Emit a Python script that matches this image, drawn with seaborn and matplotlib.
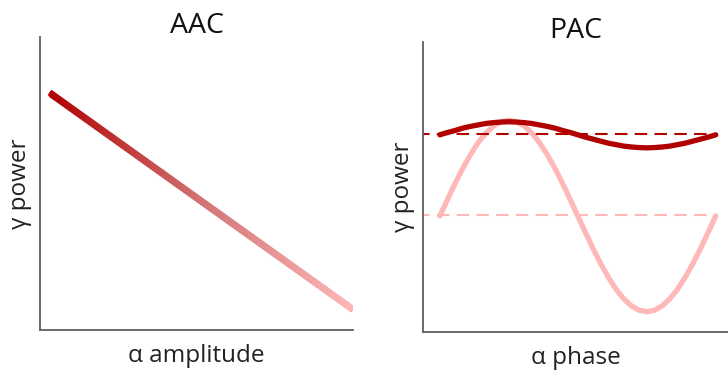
import numpy as np
import pandas as pd
import matplotlib
matplotlib.use("Agg")
import matplotlib.pyplot as plt
import seaborn as sns
from matplotlib.colors import LinearSegmentedColormap
from matplotlib.patches import Polygon
from matplotlib.transforms import IdentityTransform

# ---- data ----
aac_amplitude = [0.3, 10.0]
aac_power = [8.1, 0.7]

pac_phase = [0, 10, 20, 30, 40, 50, 60, 70, 80, 90, 100, 110, 120, 130, 140, 150,
             160, 170, 180, 190, 200, 210, 220, 230, 240, 250, 260, 270, 280, 290,
             300, 310, 320, 330, 340, 350, 360]
pac_low = [4.0, 4.57, 5.13, 5.65, 6.12, 6.53, 6.86, 7.10, 7.25, 7.3, 7.25, 7.10,
           6.86, 6.53, 6.12, 5.65, 5.13, 4.57, 4.0, 3.43, 2.87, 2.35, 1.88, 1.47,
           1.14, 0.90, 0.75, 0.7, 0.75, 0.90, 1.14, 1.47, 1.88, 2.35, 2.87, 3.43, 4.0]
pac_high = [6.8, 6.88, 6.95, 7.03, 7.09, 7.14, 7.19, 7.22, 7.24, 7.25, 7.24, 7.22,
            7.19, 7.14, 7.09, 7.03, 6.95, 6.88, 6.8, 6.72, 6.65, 6.58, 6.51, 6.46,
            6.41, 6.38, 6.36, 6.35, 6.36, 6.38, 6.41, 6.46, 6.51, 6.58, 6.65, 6.72, 6.8]
mean_high = 6.83
mean_low = 4.03

titles = ["AAC", "PAC"]
xlabels = ["α amplitude", "α phase"]
ylabel = "γ power"

DARK = "#b00000"
MID = "#d27474"
PINK = "#ffb8b8"
SPINE = "#5e5e5e"

sns.set_theme(style="white")
plt.rcParams["font.family"] = ["Open Sans", "DejaVu Sans"]

W, H = 728, 372
fig = plt.figure(figsize=(W / 100, H / 100), dpi=100)

axL = fig.add_axes([40 / W, 1 - 330 / H, 313 / W, 293 / H])
axR = fig.add_axes([423 / W, 1 - 332 / H, 305 / W, 290 / H])

# ---- left panel ----
dfL = pd.DataFrame({"amp": aac_amplitude, "pow": aac_power})
sns.lineplot(data=dfL, x="amp", y="pow", ax=axL, color=DARK, lw=4.3,
             solid_capstyle="butt")
axL.set_xlim(0, 10.0)
axL.set_ylim(0, 10)

# ---- right panel ----
dfR = pd.DataFrame({"phase": pac_phase, "low": pac_low, "high": pac_high})
sns.lineplot(data=dfR, x="phase", y="low", ax=axR, color=PINK, lw=3.8,
             solid_capstyle="round", solid_joinstyle="round")
axR.plot([-30, 360], [mean_low, mean_low], color=PINK, lw=1.5, ls=(0, (6, 3.5)))
sns.lineplot(data=dfR, x="phase", y="high", ax=axR, color=DARK, lw=3.8,
             solid_capstyle="round", solid_joinstyle="round")
axR.plot([-30, 360], [mean_high, mean_high], color=DARK, lw=1.5, ls=(0, (6, 3.5)))
axR.set_xlim(-22, 376)
axR.set_ylim(0, 10)

for ax, t, xl in zip([axL, axR], titles, xlabels):
    ax.set_xticks([])
    ax.set_yticks([])
    for s in ["top", "right"]:
        ax.spines[s].set_visible(False)
    for s in ["left", "bottom"]:
        ax.spines[s].set_color(SPINE)
        ax.spines[s].set_linewidth(1.3)
    ax.set_title(t, fontsize=20.5, color="#111111", pad=3)
    ax.set_xlabel(xl, fontsize=17.5, color="#222222", labelpad=10)
    ax.set_ylabel(ylabel, fontsize=17.5, color="#222222", labelpad=6)

# ---- gradient on the AAC line ----
line = axL.get_lines()[0]
fig.canvas.draw()
xd, yd = line.get_xdata(), line.get_ydata()
p0 = axL.transData.transform((xd[0], yd[0]))
p1 = axL.transData.transform((xd[-1], yd[-1]))
d = (p1 - p0) / np.hypot(*(p1 - p0))
n = np.array([-d[1], d[0]])
w = 4.3 * 100 / 72 / 2 + 0.6
poly = Polygon([p0 + n * w, p1 + n * w, p1 - n * w, p0 - n * w],
               closed=True, transform=IdentityTransform(), facecolor="none",
               edgecolor="none")
cmap = LinearSegmentedColormap.from_list("aac", [DARK, MID, PINK])
grad = np.linspace(0, 1, 256).reshape(1, -1)
im = axL.imshow(grad, extent=[xd[0], xd[-1], 0, 10], aspect="auto",
                cmap=cmap, interpolation="bilinear", zorder=3)
im.set_clip_path(poly)
axL.set_xlim(0, 10.0)
axL.set_ylim(0, 10)

fig.savefig("out.png", dpi=100)
